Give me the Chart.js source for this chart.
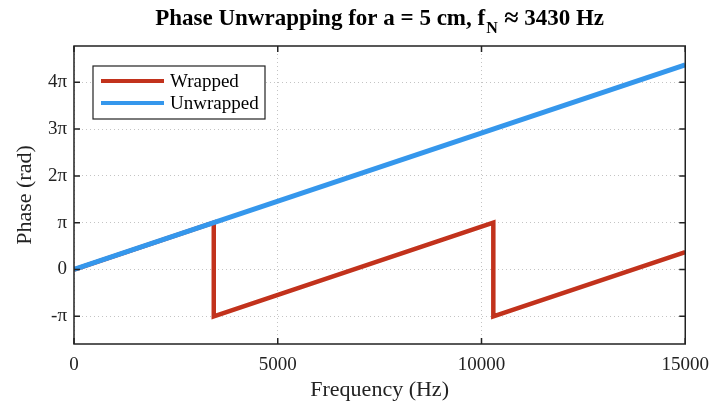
<!DOCTYPE html>
<html>
<head>
<meta charset="utf-8">
<script src="https://cdn.jsdelivr.net/npm/chart.js@4/dist/chart.umd.min.js"></script>
<style>
  html, body { margin: 0; padding: 0; background: #fff; }
  #wrap { width: 719px; height: 404px; position: relative; }
</style>
</head>
<body>
<div id="wrap"><canvas id="chart_1"></canvas></div>
<script>
// values
var freqUnwrapped = [0, 15000]
var phaseUnwrapped = [0, 13.73]
var freqWrapped = [0, 3430, 3430, 10290, 10290, 15000]
var phaseWrapped = [0, 3.1416, -3.1416, 3.1416, -3.1416, 1.16]
var xTicks = [0, 5000, 10000, 15000]
var yTickMultiples = [-1, 0, 1, 2, 3, 4]
var yTickLabels = ["-\u03c0", "0", "\u03c0", "2\u03c0", "3\u03c0", "4\u03c0"]

var serif = "'Liberation Serif', 'Times New Roman', serif"
var RED = "#C2321C"
var BLUE = "#3597EC"

function toPoints(xs, ys) {
    return xs.map(function (x, i) { return { x: x, y: ys[i] } })
}

// title with subscript N, frame, inward ticks, legend inside the axes
var matlabLook = {
    id: "matlabLook",
    afterDraw: function (chart) {
        var ctx = chart.ctx
        var a = chart.chartArea
        var sx = chart.scales.x, sy = chart.scales.y
        ctx.save()

        // title
        var big = "bold 23px " + serif
        var small = "bold 16px " + serif
        var approx = "bold 26px " + serif
        var p1 = "Phase Unwrapping for a = 5 cm, f"
        var p2 = "N"
        var p3 = " \u2248"
        var p4 = " 3430 Hz"
        ctx.font = big
        var w1 = ctx.measureText(p1).width
        var w4 = ctx.measureText(p4).width
        ctx.font = approx
        var w3 = ctx.measureText(p3).width
        ctx.font = small
        var w2 = ctx.measureText(p2).width + 1
        var total = w1 + w2 + w3 + w4
        var x0 = (a.left + a.right) / 2 - total / 2
        ctx.fillStyle = "#000"
        ctx.textBaseline = "alphabetic"
        ctx.textAlign = "left"
        ctx.font = big
        ctx.fillText(p1, x0, 25)
        ctx.font = small
        ctx.fillText(p2, x0 + w1 + 1, 33)
        ctx.font = approx
        ctx.fillText(p3, x0 + w1 + w2, 26)
        ctx.font = big
        ctx.fillText(p4, x0 + w1 + w2 + w3, 25)

        // frame
        ctx.strokeStyle = "#222"
        ctx.lineWidth = 1.5
        ctx.strokeRect(a.left, a.top, a.right - a.left, a.bottom - a.top)

        // inward ticks
        ctx.lineWidth = 1.5
        ctx.beginPath()
        sx.ticks.forEach(function (t) {
            var px = sx.getPixelForValue(t.value)
            ctx.moveTo(px, a.bottom); ctx.lineTo(px, a.bottom - 6)
            ctx.moveTo(px, a.top); ctx.lineTo(px, a.top + 6)
        })
        sy.ticks.forEach(function (t) {
            var py = sy.getPixelForValue(t.value)
            ctx.moveTo(a.left, py); ctx.lineTo(a.left + 6, py)
            ctx.moveTo(a.right, py); ctx.lineTo(a.right - 6, py)
        })
        ctx.stroke()

        // legend
        var lx = a.left + 19, ly = a.top + 20, lw = 172, lh = 53
        ctx.fillStyle = "#fff"
        ctx.fillRect(lx, ly, lw, lh)
        ctx.strokeStyle = "#222"
        ctx.lineWidth = 1.2
        ctx.strokeRect(lx, ly, lw, lh)
        ctx.font = "19px " + serif
        ctx.textBaseline = "middle"
        chart.data.datasets.forEach(function (ds, i) {
            var yy = ly + 15 + i * 22
            ctx.strokeStyle = ds.borderColor
            ctx.lineWidth = 4
            ctx.beginPath()
            ctx.moveTo(lx + 8, yy); ctx.lineTo(lx + 71, yy)
            ctx.stroke()
            ctx.fillStyle = "#000"
            ctx.fillText(ds.label, lx + 77, yy + 1)
        })
        ctx.restore()
    }
}

var config_1 = {
    type: "scatter",
    data: {
        datasets: [
            {
                label: "Wrapped",
                data: toPoints(freqWrapped, phaseWrapped),
                showLine: true,
                borderColor: RED,
                backgroundColor: RED,
                borderWidth: 4.5,
                pointRadius: 0,
                borderJoinStyle: "miter",
                order: 2
            },
            {
                label: "Unwrapped",
                data: toPoints(freqUnwrapped, phaseUnwrapped),
                showLine: true,
                borderColor: BLUE,
                backgroundColor: BLUE,
                borderWidth: 5,
                pointRadius: 0,
                order: 1
            }
        ]
    },
    options: {
        responsive: false,
        animation: false,
        layout: { padding: { top: 46, right: 33, left: 0, bottom: 0 } },
        plugins: {
            legend: { display: false },
            title: { display: false },
            tooltip: { enabled: false }
        },
        scales: {
            x: {
                type: "linear",
                min: 0,
                max: 15000,
                afterBuildTicks: function (scale) {
                    scale.ticks = xTicks.map(function (v) { return { value: v } })
                },
                afterFit: function (scale) { scale.height = 60 },
                ticks: {
                    color: "#222",
                    font: { family: serif, size: 19 },
                    padding: 10,
                    maxRotation: 0,
                    callback: function (v) { return String(v) }
                },
                grid: { color: "#c4c4c4", lineWidth: 1, drawTicks: false },
                border: { display: false, dash: [1, 3] },
                title: {
                    display: true,
                    text: "Frequency (Hz)",
                    color: "#222",
                    font: { family: serif, size: 22 },
                    padding: { top: 1, bottom: 1 }
                }
            },
            y: {
                type: "linear",
                min: -5,
                max: 15,
                afterBuildTicks: function (scale) {
                    scale.ticks = yTickMultiples.map(function (m) { return { value: m * Math.PI } })
                },
                afterFit: function (scale) { scale.width = 74 },
                ticks: {
                    color: "#222",
                    font: { family: serif, size: 19 },
                    padding: 7,
                    callback: function (v, i) { return yTickLabels[i] }
                },
                grid: { color: "#c4c4c4", lineWidth: 1, drawTicks: false },
                border: { display: false, dash: [1, 3] },
                title: {
                    display: true,
                    text: "Phase (rad)",
                    color: "#222",
                    font: { family: serif, size: 22 },
                    padding: { top: 12, bottom: 12 }
                }
            }
        }
    },
    plugins: [matlabLook]
}

var chart_1 = document.getElementById("chart_1")
chart_1.width = 719
chart_1.height = 404
var CHART_1 = new Chart(chart_1, config_1)
</script>
</body>
</html>
